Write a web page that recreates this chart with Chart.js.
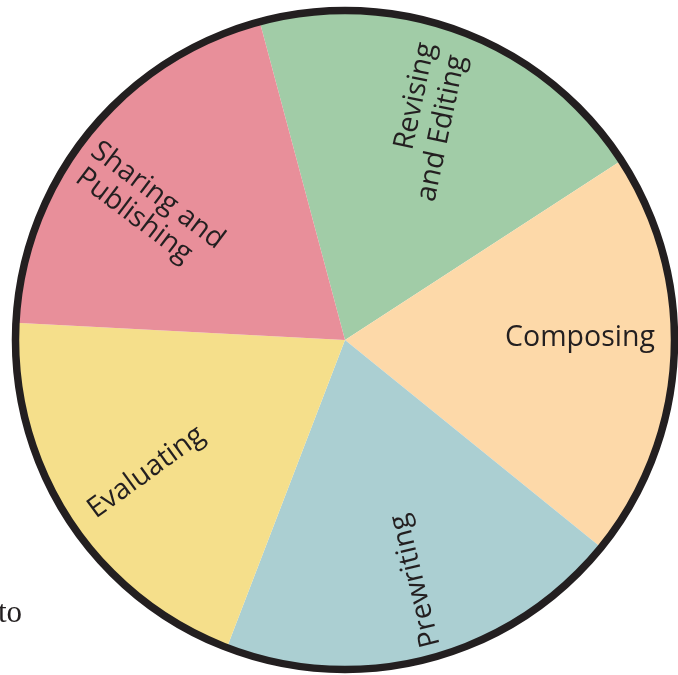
<!DOCTYPE html>
<html>
<head>
<meta charset="utf-8">
<script src="https://cdn.jsdelivr.net/npm/chart.js@4/dist/chart.umd.min.js"></script>
<style>
  html, body { margin: 0; padding: 0; background: #ffffff; }
  #wrap { position: relative; width: 678px; height: 675px; overflow: hidden; }
  canvas { display: block; }
</style>
</head>
<body>
<div id="wrap"><canvas id="c" width="678" height="675"></canvas></div>
<script>
// ---- data ----
const categories = ["Revising and Editing", "Composing", "Prewriting", "Evaluating", "Sharing and Publishing"];
const shares = [20, 20, 20, 20, 20];
const sliceColors = ["#A1CCA7", "#FDD9A9", "#ABCFD2", "#F5DF8B", "#E88F9A"];
const labelLines = [["Revising", "and Editing"], ["Composing"], ["Prewriting"], ["Evaluating"], ["Sharing and", "Publishing"]];

// ---- label placement (fractions of radius from pie centre, rotation in degrees) ----
const labelLayout = [
  { rot: -78, pos: [[0.212, -0.739], [0.292, -0.642]] },
  { rot: 0,   pos: [[0.712, -0.009]] },
  { rot: -104, pos: [[0.212, 0.730]] },
  { rot: -36, pos: [[-0.603, 0.400]] },
  { rot: 37,  pos: [[-0.567, -0.439], [-0.639, -0.378]] }
];

const INK = "#231F20";
const FONT_SIZE = 28.5;
const FONT = FONT_SIZE + "px 'Open Sans', 'Noto Sans', sans-serif";

const outlinePlugin = {
  id: 'outline',
  afterDatasetsDraw(chart) {
    const arc = chart.getDatasetMeta(0).data[0];
    if (!arc) return;
    const ctx = chart.ctx;
    ctx.save();
    ctx.beginPath();
    ctx.arc(arc.x, arc.y, arc.outerRadius - 0.5, 0, Math.PI * 2);
    ctx.lineWidth = 7.5;
    ctx.strokeStyle = INK;
    ctx.stroke();
    ctx.restore();
  }
};

const labelPlugin = {
  id: 'sliceLabels',
  afterDraw(chart) {
    const meta = chart.getDatasetMeta(0);
    const ctx = chart.ctx;
    ctx.save();
    ctx.font = FONT;
    ctx.fillStyle = INK;
    ctx.textAlign = 'center';
    ctx.textBaseline = 'alphabetic';
    meta.data.forEach((arc, i) => {
      const R = arc.outerRadius;
      const lay = labelLayout[i];
      labelLines[i].forEach((line, j) => {
        const p = lay.pos[j];
        ctx.save();
        ctx.translate(arc.x + p[0] * R, arc.y + p[1] * R);
        ctx.rotate(lay.rot * Math.PI / 180);
        ctx.fillText(line, 0, 0.3 * FONT_SIZE);
        ctx.restore();
      });
    });
    // stray word from the surrounding page text
    ctx.font = "31px 'Liberation Serif', serif";
    ctx.textAlign = 'left';
    ctx.fillText("to", -2, 622);
    ctx.restore();
  }
};

new Chart(document.getElementById('c'), {
  type: 'pie',
  data: {
    labels: categories,
    datasets: [{
      data: shares,
      backgroundColor: sliceColors,
      borderWidth: 0,
      hoverOffset: 0,
      offset: 0
    }]
  },
  options: {
    responsive: false,
    animation: false,
    rotation: -15,
    layout: { padding: { left: 15, right: 3, top: 10, bottom: 5 } },
    plugins: {
      legend: { display: false },
      tooltip: { enabled: false }
    },
    events: []
  },
  plugins: [outlinePlugin, labelPlugin]
});
</script>
</body>
</html>
